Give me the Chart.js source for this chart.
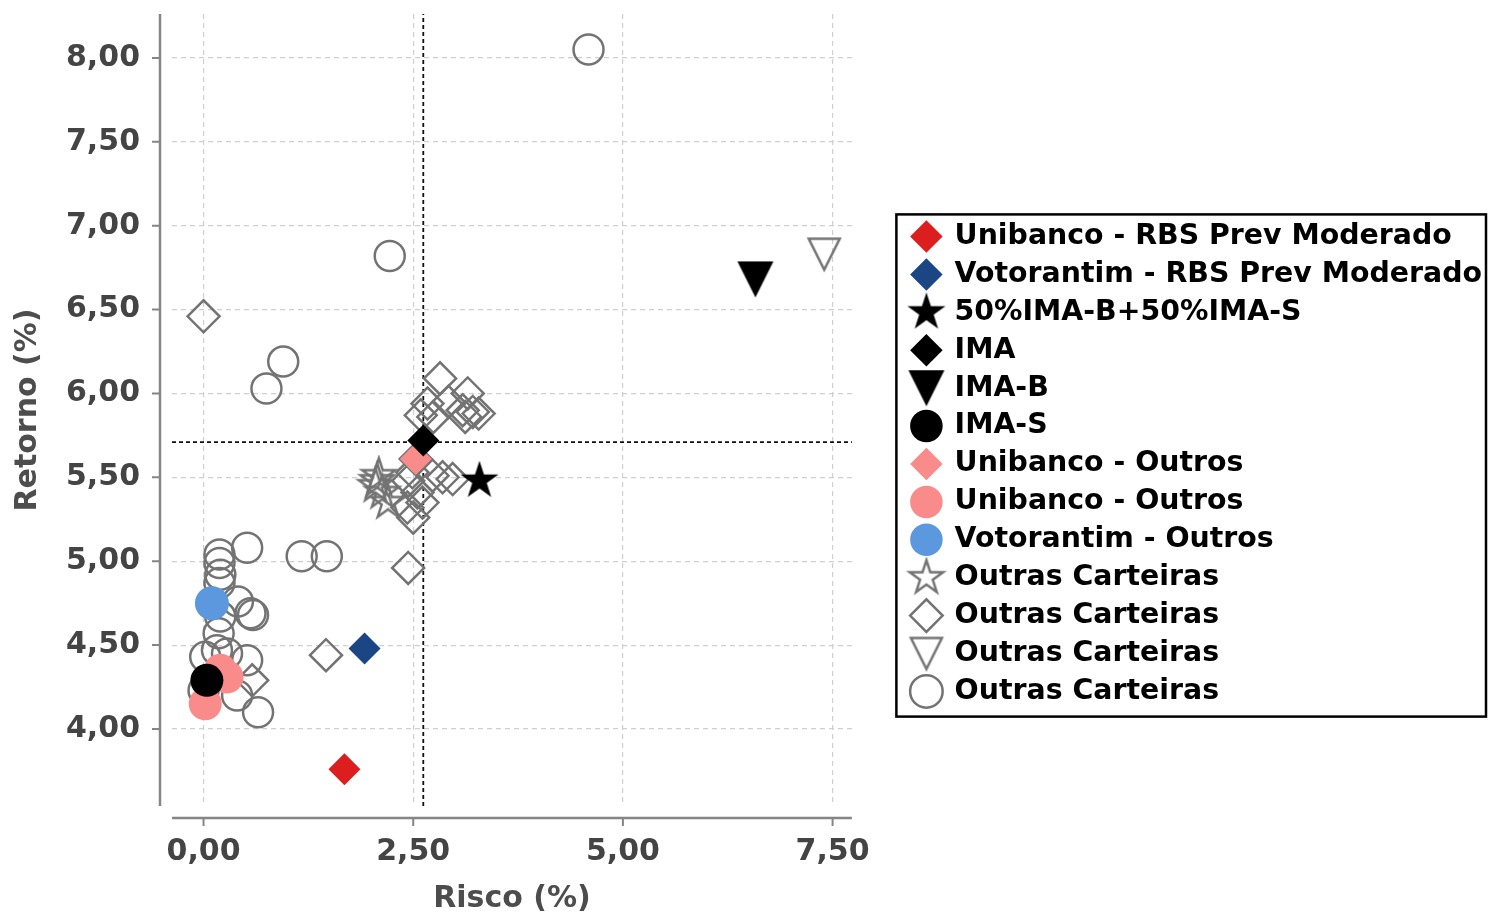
<!DOCTYPE html>
<html>
<head>
<meta charset="utf-8">
<script src="https://cdn.jsdelivr.net/npm/chart.js@4.4.1/dist/chart.umd.min.js"></script>
<style>
  html, body { margin: 0; padding: 0; background: #fff; }
  #wrap { width: 1488px; height: 914px; }
</style>
</head>
<body>
<div id="wrap"><canvas id="riskChart"></canvas></div>
<script>
// axis setup
const xTicks = [0, 2.5, 5, 7.5];
const yTicks = [4, 4.5, 5, 5.5, 6, 6.5, 7, 7.5, 8];
const xRange = [-0.376, 7.73];
const yRange = [3.541, 8.262];
const refRisk = 2.62;
const refReturn = 5.71;

// series (risco, retorno)
const unibancoRbs = [{x: 1.68, y: 3.76}];
const votorantimRbs = [{x: 1.92, y: 4.48}];
const bench5050 = [{x: 3.29, y: 5.48}];
const imaGeral = [{x: 2.62, y: 5.72}];
const imaB = [{x: 6.58, y: 6.68}];
const imaS = [{x: 0.04, y: 4.29}];
const unibancoOutrosDiamond = [{x: 2.53, y: 5.61}];
const unibancoOutrosCircle = [
  {x: 0.20, y: 4.35}, {x: 0.28, y: 4.31}, {x: 0.02, y: 4.15}
];
const votorantimOutros = [{x: 0.10, y: 4.75}];
const outrasStar = [
  {x: 2.09, y: 5.51}, {x: 2.07, y: 5.48}, {x: 2.05, y: 5.45},
  {x: 2.13, y: 5.41}, {x: 2.20, y: 5.35}
];
const outrasDiamond = [
  {x: 0.00, y: 6.46}, {x: 1.46, y: 4.44}, {x: 2.44, y: 4.96}, {x: 0.58, y: 4.29},
  {x: 2.82, y: 6.09}, {x: 3.15, y: 6.00}, {x: 2.67, y: 5.94}, {x: 2.92, y: 5.95},
  {x: 3.09, y: 5.90}, {x: 3.21, y: 5.89}, {x: 3.28, y: 5.88}, {x: 3.12, y: 5.86},
  {x: 2.59, y: 5.87}, {x: 2.74, y: 5.86},
  {x: 2.49, y: 5.53}, {x: 2.44, y: 5.48}, {x: 2.73, y: 5.51}, {x: 2.85, y: 5.50},
  {x: 2.97, y: 5.49}, {x: 2.55, y: 5.41}, {x: 2.43, y: 5.32}, {x: 2.61, y: 5.35},
  {x: 2.50, y: 5.26}, {x: 2.53, y: 5.61}
];
const outrasTriangle = [{x: 7.40, y: 6.83}];
const outrasCircle = [
  {x: 4.59, y: 8.05}, {x: 2.22, y: 6.82}, {x: 0.95, y: 6.19}, {x: 0.75, y: 6.03},
  {x: 0.52, y: 5.08}, {x: 1.17, y: 5.03}, {x: 1.47, y: 5.03},
  {x: 0.19, y: 5.04}, {x: 0.19, y: 4.99}, {x: 0.20, y: 4.92}, {x: 0.19, y: 4.87},
  {x: 0.41, y: 4.76}, {x: 0.56, y: 4.69}, {x: 0.59, y: 4.68}, {x: 0.20, y: 4.67},
  {x: 0.18, y: 4.57}, {x: 0.16, y: 4.47}, {x: 0.52, y: 4.41}, {x: 0.02, y: 4.43},
  {x: 0.28, y: 4.45}, {x: 0.40, y: 4.20}, {x: 0.65, y: 4.10}, {x: 0.00, y: 4.23}
];

const grey = '#737373';
const tickFont = {family: 'DejaVu Sans', size: 30, weight: 'bold'};

function fmt(v) {
  return v.toFixed(2).replace('.', ',');
}

// star / triangle glyphs, like the matplotlib markers
function makeMarker(shape, fill, stroke, size, lw) {
  const c = document.createElement('canvas');
  c.width = size;
  c.height = size;
  const g = c.getContext('2d');
  const m = size / 2;
  const r = size / 2 - (lw || 0) - 1;
  g.beginPath();
  if (shape === 'star') {
    for (let i = 0; i < 10; i++) {
      const a = -Math.PI / 2 + i * Math.PI / 5;
      const rr = i % 2 === 0 ? r : r * 0.382;
      g.lineTo(m + rr * Math.cos(a), m + rr * Math.sin(a));
    }
  } else {
    g.moveTo(m - r, m - r);
    g.lineTo(m + r, m - r);
    g.lineTo(m, m + r);
  }
  g.closePath();
  if (fill) { g.fillStyle = fill; g.fill(); }
  if (stroke) { g.strokeStyle = stroke; g.lineWidth = lw; g.stroke(); }
  return c;
}

const starBlack = makeMarker('star', '#000', null, 42, 0);
const starHollow = makeMarker('star', null, grey, 42, 2.5);
const triBlack = makeMarker('tri', '#000', null, 38, 0);
const triHollow = makeMarker('tri', null, grey, 38, 2.5);

function filled(label, data, style, color, r) {
  return {
    label: label, data: data, pointStyle: style,
    backgroundColor: color, borderColor: color, borderWidth: 0,
    pointRadius: r, pointHoverRadius: r
  };
}

function hollow(label, data, style, r) {
  return {
    label: label, data: data, pointStyle: style,
    backgroundColor: 'rgba(0,0,0,0)', borderColor: grey, borderWidth: 2.5,
    pointRadius: r, pointHoverRadius: r
  };
}

function refLine(label, data) {
  return {
    type: 'line', label: label, data: data,
    borderColor: '#111', borderWidth: 1.8, borderDash: [4, 3],
    pointRadius: 0, fill: false
  };
}

const offsetSpines = {
  id: 'offsetSpines',
  afterDraw(chart) {
    const {ctx, chartArea: a, scales: {x, y}} = chart;
    ctx.save();
    ctx.strokeStyle = '#858585';
    ctx.lineWidth = 2.5;
    ctx.beginPath();
    ctx.moveTo(a.left - 12, a.top);
    ctx.lineTo(a.left - 12, a.bottom);
    ctx.moveTo(a.left, a.bottom + 12);
    ctx.lineTo(a.right, a.bottom + 12);
    ctx.stroke();
    ctx.lineWidth = 2;
    ctx.beginPath();
    yTicks.forEach(v => {
      const p = y.getPixelForValue(v);
      ctx.moveTo(a.left - 12, p);
      ctx.lineTo(a.left - 20, p);
    });
    xTicks.forEach(v => {
      const p = x.getPixelForValue(v);
      ctx.moveTo(p, a.bottom + 12);
      ctx.lineTo(p, a.bottom + 20);
    });
    ctx.stroke();
    ctx.restore();
  }
};

const legendFrame = {
  id: 'legendFrame',
  afterDraw(chart) {
    const boxes = chart.legend.legendHitBoxes;
    if (!boxes || !boxes.length) return;
    const first = boxes[0];
    const last = boxes[boxes.length - 1];
    const left = first.left - 16;
    const top = first.top - 8;
    const ctx = chart.ctx;
    ctx.save();
    ctx.strokeStyle = '#000';
    ctx.lineWidth = 2.5;
    ctx.strokeRect(left, top, chart.width - 2 - left, last.top + last.height + 11 - top);
    ctx.restore();
  }
};

const ctx = document.getElementById('riskChart').getContext('2d');

new Chart(ctx, {
  type: 'scatter',
  data: {
    datasets: [
      filled('Unibanco - RBS Prev Moderado', unibancoRbs, 'rectRot', '#dc1e1e', 16),
      filled('Votorantim - RBS Prev Moderado', votorantimRbs, 'rectRot', '#1a4784', 16),
      filled('50%IMA-B+50%IMA-S', bench5050, starBlack, '#000', 19),
      filled('IMA', imaGeral, 'rectRot', '#000', 16),
      filled('IMA-B', imaB, triBlack, '#000', 18),
      filled('IMA-S', imaS, 'circle', '#000', 16.5),
      filled('Unibanco - Outros', unibancoOutrosDiamond, 'rectRot', '#f98b8b', 16),
      filled('Unibanco - Outros', unibancoOutrosCircle, 'circle', '#f98b8b', 16.5),
      filled('Votorantim - Outros', votorantimOutros, 'circle', '#5c98de', 17),
      hollow('Outras Carteiras', outrasStar, starHollow, 19),
      hollow('Outras Carteiras', outrasDiamond, 'rectRot', 16),
      hollow('Outras Carteiras', outrasTriangle, triHollow, 18),
      hollow('Outras Carteiras', outrasCircle, 'circle', 15),
      refLine('refX', [{x: refRisk, y: yRange[0]}, {x: refRisk, y: yRange[1]}]),
      refLine('refY', [{x: xRange[0], y: refReturn}, {x: xRange[1], y: refReturn}])
    ]
  },
  options: {
    responsive: true,
    maintainAspectRatio: false,
    animation: false,
    layout: { autoPadding: false, padding: {top: 14, bottom: 0, left: 0, right: -4} },
    plugins: {
      tooltip: { enabled: false },
      legend: {
        position: 'right',
        maxWidth: 640,
        labels: {
          usePointStyle: true,
          boxWidth: 28,
          boxHeight: 23,
          padding: 9.5,
          color: '#000',
          font: {family: 'DejaVu Sans', size: 28.4, weight: 'bold'},
          filter: item => !item.text.startsWith('ref')
        }
      }
    },
    scales: {
      x: {
        type: 'linear',
        min: xRange[0],
        max: xRange[1],
        afterBuildTicks: s => { s.ticks = xTicks.map(v => ({value: v})); },
        afterFit: s => { s.height = 108; s.paddingLeft = 0; s.paddingRight = 0; },
        grid: { color: '#cfcfcf', lineWidth: 1.2, drawTicks: false },
        border: { display: false, dash: [5, 4] },
        ticks: { padding: 28, color: '#444', font: tickFont, callback: v => fmt(v) },
        title: {
          display: true, text: 'Risco (%)', color: '#4d4d4d',
          font: {family: 'DejaVu Sans', size: 30, weight: 'bold', lineHeight: 1.0},
          padding: {top: 0, bottom: 0}
        }
      },
      y: {
        type: 'linear',
        min: yRange[0],
        max: yRange[1],
        afterBuildTicks: s => { s.ticks = yTicks.map(v => ({value: v})); },
        afterFit: s => { s.width = 172; s.paddingTop = 0; s.paddingBottom = 0; },
        grid: { color: '#cfcfcf', lineWidth: 1.2, drawTicks: false },
        border: { display: false, dash: [5, 4] },
        ticks: { padding: 32, color: '#444', font: tickFont, callback: v => fmt(v) },
        title: {
          display: true, text: 'Retorno (%)', color: '#4d4d4d',
          font: {family: 'DejaVu Sans', size: 30, weight: 'bold'},
          padding: {top: 10, bottom: 0}
        }
      },
      // empty right-hand axis: keeps the gap between plot and legend
      gap: {
        axis: 'y',
        position: 'right',
        display: true,
        grid: { display: false },
        border: { display: false },
        ticks: { display: false },
        afterFit: s => { s.width = 51; s.paddingTop = 0; s.paddingBottom = 0; }
      }
    }
  },
  plugins: [offsetSpines, legendFrame]
});
</script>
</body>
</html>
